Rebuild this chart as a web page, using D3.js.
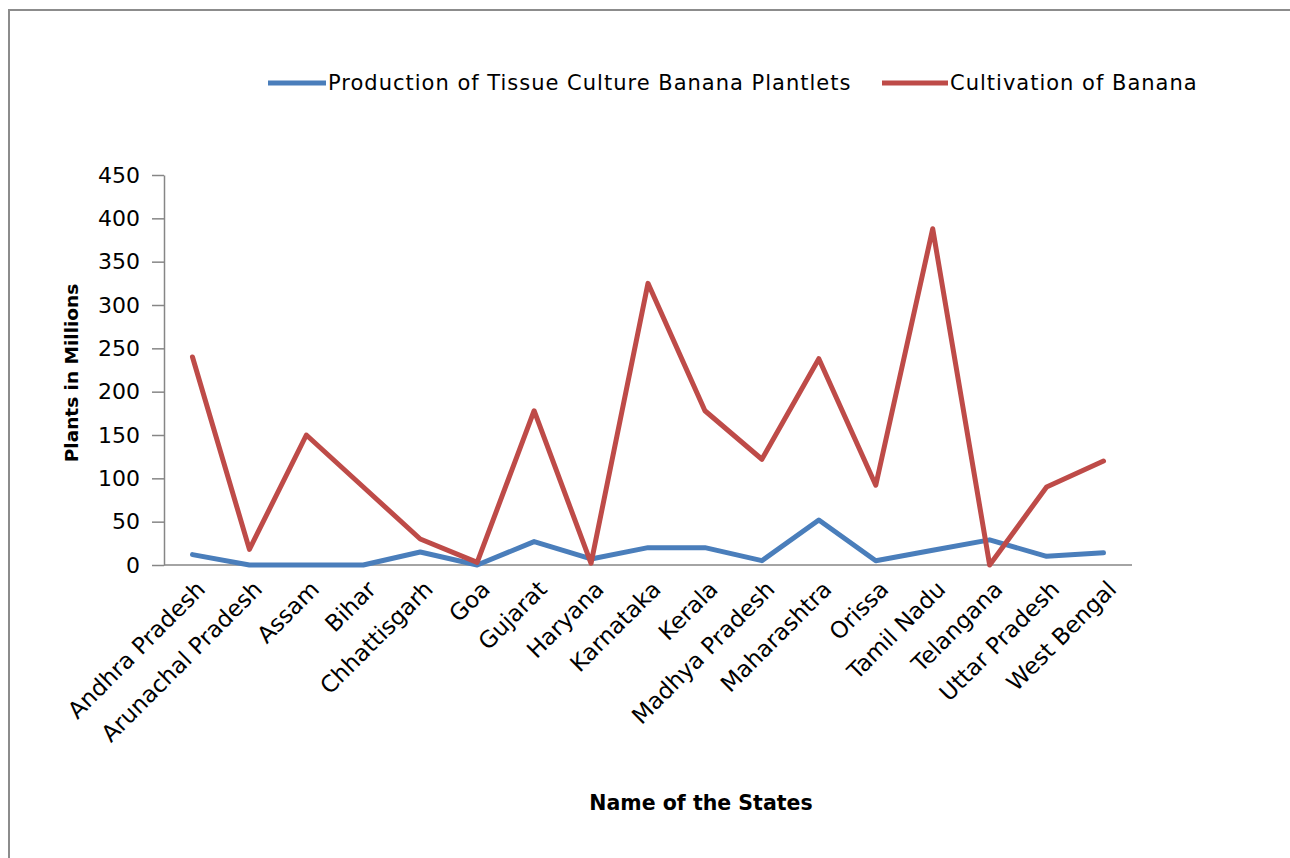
<!DOCTYPE html>
<html>
<head>
<meta charset="utf-8">
<script src="https://cdn.jsdelivr.net/npm/d3@7"></script>
<style>
  html, body { margin: 0; padding: 0; background: #fff; }
  svg { display: block; }
  text { font-family: "DejaVu Sans", Verdana, sans-serif; fill: #000; }
</style>
</head>
<body>
<svg id="chart" width="1290" height="858"></svg>
<script>
// Banana plantlet production vs. banana cultivation by state (millions of plants)
const states = [
  "Andhra Pradesh", "Arunachal Pradesh", "Assam", "Bihar", "Chhattisgarh", "Goa",
  "Gujarat", "Haryana", "Karnataka", "Kerala", "Madhya Pradesh", "Maharashtra",
  "Orissa", "Tamil Nadu", "Telangana", "Uttar Pradesh", "West Bengal"
];
const tissueCulture = [12, 0, 0, 0, 15, 0, 27, 7, 20, 20, 5, 52, 5, 17, 29, 10, 14];
const cultivation   = [240, 18, 150, 90, 30, 3, 178, 2, 325, 178, 122, 238, 92, 388, 0, 90, 120];
const yTicks = [0, 50, 100, 150, 200, 250, 300, 350, 400, 450];
const seriesNames = ["Production of Tissue Culture Banana Plantlets", "Cultivation of Banana"];
const seriesColors = ["#4a7ebb", "#be4b48"];

const series = [tissueCulture, cultivation].map((vals, i) => ({
  name: seriesNames[i], color: seriesColors[i], values: vals
}));

const svg = d3.select("#chart");

// chart frame
svg.append("rect")
  .attr("x", 9).attr("y", 10).attr("width", 1300).attr("height", 900)
  .attr("fill", "#fff").attr("stroke", "#8c8c8c").attr("stroke-width", 2);

const plot = { left: 164, right: 1132, top: 175, bottom: 565 };

const x = d3.scalePoint().domain(states).range([plot.left, plot.right]).padding(0.5);
const y = d3.scaleLinear().domain([0, 450]).range([plot.bottom, plot.top]);

// y axis
const yAxis = svg.append("g")
  .attr("transform", `translate(${plot.left},0)`)
  .call(d3.axisLeft(y).tickValues(yTicks).tickSize(12).tickSizeOuter(0).tickPadding(12));
yAxis.select(".domain").attr("stroke", "#868686").attr("stroke-width", 1.5);
yAxis.selectAll(".tick line").attr("stroke", "#868686").attr("stroke-width", 1.5);
yAxis.selectAll(".tick text")
  .attr("font-family", "DejaVu Sans").attr("font-size", 22).attr("fill", "#1a1a1a");

// x axis
const xAxis = svg.append("g")
  .attr("transform", `translate(0,${plot.bottom})`)
  .call(d3.axisBottom(x).tickSize(0).tickSizeOuter(0).tickPadding(0));
xAxis.select(".domain")
  .attr("d", `M${plot.left},0H${plot.right}`)
  .attr("stroke", "#868686").attr("stroke-width", 1.5);
xAxis.selectAll(".tick text")
  .attr("font-family", "DejaVu Sans").attr("font-size", 23).attr("fill", "#1a1a1a")
  .attr("text-anchor", "end")
  .attr("dy", "0.35em")
  .attr("transform", "translate(8,20) rotate(-45)");

// series lines
const line = d3.line()
  .x((d, i) => x(states[i]))
  .y(d => y(d));

svg.append("g").selectAll("path.series")
  .data(series)
  .join("path")
  .attr("class", "series")
  .attr("d", d => line(d.values))
  .attr("fill", "none")
  .attr("stroke", d => d.color)
  .attr("stroke-width", 5)
  .attr("stroke-linejoin", "round")
  .attr("stroke-linecap", "round");

// axis titles
svg.append("text")
  .attr("transform", "translate(78,373) rotate(-90)")
  .attr("text-anchor", "middle")
  .attr("font-weight", "bold")
  .attr("font-size", 18.5)
  .text("Plants in Millions");

svg.append("text")
  .attr("x", 701).attr("y", 810)
  .attr("text-anchor", "middle")
  .attr("font-weight", "bold")
  .attr("font-size", 20.5)
  .text("Name of the States");

// legend
const legendX = [268, 882];
const legend = svg.append("g").selectAll("g")
  .data(series)
  .join("g")
  .attr("transform", (d, i) => `translate(${legendX[i]},83)`);
legend.append("line")
  .attr("x1", 0).attr("x2", (d, i) => i === 0 ? 58 : 66)
  .attr("y1", 0).attr("y2", 0)
  .attr("stroke", d => d.color).attr("stroke-width", 5);
legend.append("text")
  .attr("x", (d, i) => i === 0 ? 60 : 68)
  .attr("y", 0).attr("dy", "0.35em")
  .attr("font-size", 21)
  .attr("letter-spacing", 1)
  .attr("fill", "#1a1a1a")
  .text(d => d.name);
</script>
</body>
</html>
